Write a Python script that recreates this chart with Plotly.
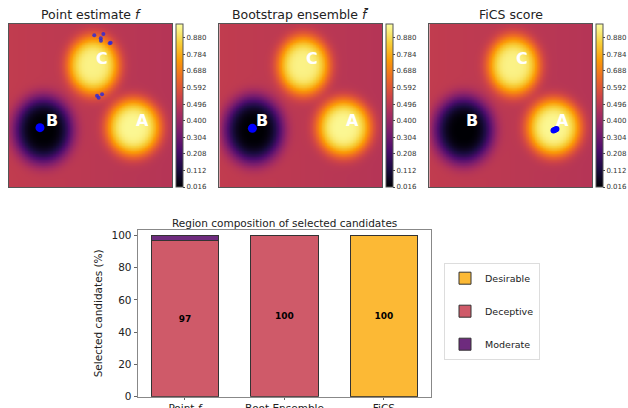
import numpy as np
import plotly.graph_objects as go

# ---------------- data ----------------
# surface bumps (region, center x, center y, amplitude, width x, width y)
bump_names = ["A", "B", "C"]
bump_cx = [0.765, 0.210, 0.518]
bump_cy = [0.365, 0.350, 0.745]
bump_amp = [0.46, -0.485, 0.44]
bump_sx = [0.168, 0.180, 0.160]
bump_sy = [0.178, 0.205, 0.183]
base_level = 0.505
base_tilt = -0.03

label_x = [0.819, 0.264, 0.569]
label_y = [0.407, 0.407, 0.787]

# selected candidates per method (normalised coordinates)
point_sel_x = [0.523, 0.579, 0.563, 0.564, 0.624, 0.618, 0.540, 0.571, 0.550]
point_sel_y = [0.931, 0.939, 0.912, 0.897, 0.885, 0.882, 0.560, 0.569, 0.548]
point_main_x = [0.190]
point_main_y = [0.364]
boot_sel_x = [0.203]
boot_sel_y = [0.360]
fics_sel_x = [0.762, 0.768, 0.774, 0.780]
fics_sel_y = [0.346, 0.349, 0.352, 0.356]

titles = ["Point estimate <i>f</i>", "Bootstrap ensemble <i>f\u0304</i>", "FiCS score"]
cbar_ticks = [0.016, 0.112, 0.208, 0.304, 0.400, 0.496, 0.592, 0.688, 0.784, 0.880]

methods = ["Point <i>f</i>", "Boot Ensemble", "FiCS"]
desirable = [0, 0, 100]
deceptive = [96.7, 100, 0]
moderate = [3.3, 0, 0]

col_des = "#fcb935"
col_dec = "#cf5a69"
col_mod = "#6e2b7e"

# ---------------- surface ----------------
N = 220
g = (np.arange(N) + 0.5) / N
X, Y = np.meshgrid(g, g)
Z = base_level + base_tilt * X
for cx, cy, a, sx, sy in zip(bump_cx, bump_cy, bump_amp, bump_sx, bump_sy):
    r2 = ((X - cx) / sx) ** 2 + ((Y - cy) / sy) ** 2
    Z = Z + a * np.exp(-(r2 ** 2))
Z = np.clip(Z, 0.016, 0.96)

W, H = 628, 408
panel_left = [9, 219.3, 429.3]
panel_w = 163
top_px, bot_px = 24, 187

fig = go.Figure()

for i in range(3):
    x0 = panel_left[i] / W
    x1 = (panel_left[i] + panel_w) / W
    xa = "x" if i == 0 else f"x{i+1}"
    ya = "y" if i == 0 else f"y{i+1}"
    fig.add_trace(go.Heatmap(
        x=g, y=g, z=Z, colorscale="Inferno", zmin=0.016, zmax=0.96,
        xaxis=xa, yaxis=ya, hoverinfo="skip",
        colorbar=dict(
            x=(panel_left[i] + panel_w + 4) / W, xanchor="left", xpad=0, ypad=0,
            y=1 - (top_px + bot_px) / 2 / H, yanchor="middle",
            len=(bot_px - top_px) / H, lenmode="fraction",
            thickness=7, outlinewidth=1, outlinecolor="#555",
            tickvals=cbar_ticks, ticktext=[f"{t:.3f}" for t in cbar_ticks],
            ticks="outside", ticklen=2, tickcolor="#444",
            tickfont=dict(size=7, color="#333", family="DejaVu Sans"),
        ),
    ))
    axkw = dict(range=[0, 1], showticklabels=False, ticks="", showgrid=False, automargin=False,
                zeroline=False, showline=True, mirror=True, linecolor="#555", linewidth=1)
    fig.update_layout(**{
        ("xaxis" if i == 0 else f"xaxis{i+1}"): dict(domain=[x0, x1], anchor=ya, **axkw),
        ("yaxis" if i == 0 else f"yaxis{i+1}"): dict(domain=[1 - bot_px / H, 1 - top_px / H], anchor=xa, **axkw),
    })
    # region labels
    for nm, lx, ly in zip(bump_names, label_x, label_y):
        fig.add_annotation(x=lx, y=ly, xref=xa, yref=ya, text=f"<b>{nm}</b>", showarrow=False,
                           xanchor="center", yanchor="middle",
                           font=dict(size=16, color="white", family="DejaVu Sans"))
    fig.add_annotation(x=(x0 + x1) / 2, y=1 - 15 / H, xref="paper", yref="paper",
                       text=titles[i], showarrow=False, xanchor="center", yanchor="middle",
                       font=dict(size=12.5, color="#222", family="DejaVu Sans"))

# selected candidate markers
fig.add_trace(go.Scatter(x=point_sel_x, y=point_sel_y, mode="markers", xaxis="x", yaxis="y",
                         marker=dict(size=4, color="rgba(40,40,220,0.8)"), showlegend=False, hoverinfo="skip"))
fig.add_trace(go.Scatter(x=point_main_x, y=point_main_y, mode="markers", xaxis="x", yaxis="y",
                         marker=dict(size=9, color="#0000ff"), showlegend=False, hoverinfo="skip"))
fig.add_trace(go.Scatter(x=boot_sel_x, y=boot_sel_y, mode="markers", xaxis="x2", yaxis="y2",
                         marker=dict(size=9, color="#0000ff"), showlegend=False, hoverinfo="skip"))
fig.add_trace(go.Scatter(x=fics_sel_x, y=fics_sel_y, mode="markers", xaxis="x3", yaxis="y3",
                         marker=dict(size=6, color="#0000ff"), showlegend=False, hoverinfo="skip"))

# ---------------- bar chart ----------------
def txt(vals):
    return [f"<b>{v:.0f}</b>" if v >= 10 else "" for v in vals]

bar_common = dict(xaxis="x4", yaxis="y4", width=0.68, marker_line=dict(color="#333", width=1),
                  textposition="inside", insidetextanchor="middle", textangle=0,
                  constraintext="none", hoverinfo="skip",
                  textfont=dict(size=9, color="black", family="DejaVu Sans"))
xpos = [0, 1, 2]
fig.add_trace(go.Bar(x=xpos, y=deceptive, name="Deceptive", marker_color=col_dec, text=txt(deceptive),
                     legendrank=2, legendgroup="dec", **bar_common))
fig.add_trace(go.Bar(x=xpos, y=moderate, name="Moderate", marker_color=col_mod, text=txt(moderate),
                     legendrank=3, legendgroup="mod", **bar_common))
fig.add_trace(go.Bar(x=xpos, y=desirable, name="Desirable", marker_color=col_des, text=txt(desirable),
                     legendrank=1, legendgroup="des", **bar_common))

fig.update_layout(
    barmode="stack",
    xaxis4=dict(domain=[137.7 / W, 430.7 / W], anchor="y4", range=[-0.475, 2.47], automargin=False,
                tickvals=xpos, ticktext=methods, ticks="outside", ticklen=2, tickcolor="#666",
                showline=True, mirror=True, linecolor="#888", linewidth=1.2, showgrid=False,
                zeroline=False, tickfont=dict(size=10.5, color="#222", family="DejaVu Sans")),
    yaxis4=dict(domain=[1 - 396.7 / H, 1 - 230 / H], anchor="x4", range=[0, 103.3], automargin=False,
                tickvals=[0, 20, 40, 60, 80, 100], ticks="outside", ticklen=3, tickcolor="#666",
                showline=True, mirror=True, linecolor="#888", linewidth=1.2, showgrid=False,
                zeroline=False, tickfont=dict(size=10.5, color="#222", family="DejaVu Sans"),
                title=dict(text="Selected candidates (%)", standoff=6,
                           font=dict(size=10.5, color="#222", family="DejaVu Sans"))),
)
fig.add_annotation(x=284 / W, y=1 - 223 / H, xref="paper", yref="paper", showarrow=False,
                   text="Region composition of selected candidates", xanchor="center", yanchor="middle",
                   font=dict(size=10.5, color="#222", family="DejaVu Sans"))

fig.update_layout(
    width=W, height=H, margin=dict(l=0, r=0, t=0, b=0, autoexpand=False),
    paper_bgcolor="white", plot_bgcolor="white",
    showlegend=True,
    legend=dict(x=444 / W, y=1 - 262.7 / H, xanchor="left", yanchor="top",
                bordercolor="#ddd", borderwidth=1, tracegroupgap=14, itemwidth=30,
                font=dict(size=9.5, color="#222", family="DejaVu Sans")),
)

fig.write_html("out.html")
